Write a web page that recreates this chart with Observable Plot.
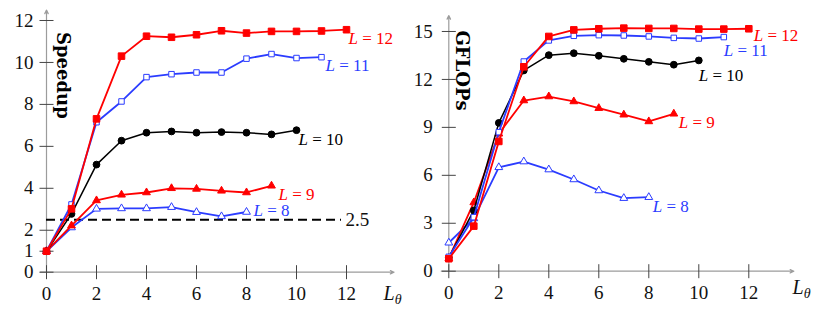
<!DOCTYPE html>
<html><head><meta charset="utf-8">
<script src="https://cdn.jsdelivr.net/npm/d3@7"></script>
<script src="https://cdn.jsdelivr.net/npm/@observablehq/plot@0.6"></script>
<style>
body{margin:0;background:#fff;}
#wrap{display:flex;width:823px;height:311px;overflow:hidden;}
#wrap svg{display:block;}
</style></head><body><div id="wrap"></div>
<script>
// ---- data ----
const lTheta = [0,1,2,3,4,5,6,7,8,9,10,11,12];
const seriesNames = ["L = 8","L = 9","L = 10","L = 11","L = 12"];

const speedupL8  = [1, 2.13, 3.02, 3.04, 3.04, 3.10, 2.86, 2.66, 2.87];
const speedupL9  = [1, 2.22, 3.42, 3.69, 3.80, 4.00, 3.97, 3.88, 3.80, 4.12];
const speedupL10 = [1, 2.78, 5.13, 6.27, 6.65, 6.71, 6.65, 6.68, 6.65, 6.57, 6.77];
const speedupL11 = [1, 3.23, 7.15, 8.14, 9.30, 9.44, 9.52, 9.52, 10.18, 10.40, 10.21, 10.25];
const speedupL12 = [1, 3.02, 7.31, 10.30, 11.25, 11.20, 11.32, 11.51, 11.40, 11.48, 11.48, 11.50, 11.56];

const gflopsL8  = [1.78, 3.30, 6.50, 6.86, 6.36, 5.74, 5.05, 4.57, 4.63];
const gflopsL9  = [0.80, 4.30, 8.60, 10.68, 10.93, 10.62, 10.20, 9.79, 9.37, 9.85];
const gflopsL10 = [0.85, 3.80, 9.28, 12.56, 13.52, 13.64, 13.48, 13.29, 13.10, 12.92, 13.19];
const gflopsL11 = [0.90, 3.38, 8.70, 13.12, 14.44, 14.73, 14.77, 14.75, 14.69, 14.60, 14.56, 14.65];
const gflopsL12 = [0.78, 2.82, 8.12, 12.79, 14.69, 15.10, 15.17, 15.21, 15.19, 15.19, 15.15, 15.15, 15.17];

const xTickValues = [0,2,4,6,8,10,12];
const speedupTickValues = [0,1,2,4,6,8,10,12];
const gflopsTickValues = [0,3,6,9,12,15];
const refLineValue = 2.5;
const refLineLabel = "2.5";
const xAxisLabel = "Lθ";
const leftTitle = "Speedup";
const rightTitle = "GFLOPs";

// ---- styles ----
const RED = "#ff0000", BLUE = "#2b3cff", BLACK = "#000000";
const FONT = "Liberation Serif";
const seriesStyles = [
  {color: BLUE,  symbol: "triangle", fill: "white", r: 2.9, sw: 1.8},
  {color: RED,   symbol: "triangle", fill: RED,     r: 2.9, sw: 1.8},
  {color: BLACK, symbol: "circle",   fill: BLACK,   r: 3.4, sw: 1.5},
  {color: BLUE,  symbol: "square",   fill: "white", r: 3.1, sw: 1.8},
  {color: RED,   symbol: "square",   fill: RED,     r: 3.7, sw: 1.8}
];
const vTick = {draw(ctx){ ctx.moveTo(0,-7); ctx.lineTo(0,7); }};
const hTick = {draw(ctx){ ctx.moveTo(-7,0); ctx.lineTo(7,0); }};

function rows(values){ return values.map((v,i)=>({x: lTheta[i], y: v})); }

function makeChart(cfg){
  const marks = [];
  marks.push(Plot.arrow([cfg.xAxis], {x1:"x1", y1:"y1", x2:"x2", y2:"y2", stroke:"#9c9c9c", strokeWidth:1.2, headLength:5, headAngle:50}));
  marks.push(Plot.arrow([cfg.yAxis], {x1:"x1", y1:"y1", x2:"x2", y2:"y2", stroke:"#9c9c9c", strokeWidth:1.2, headLength:5, headAngle:50}));
  marks.push(Plot.dot(xTickValues, {x: d=>d, y: 0, symbol: vTick, stroke: "#444", strokeWidth: 1, fill: "none"}));
  marks.push(Plot.dot(cfg.yTicks, {x: 0, y: d=>d, symbol: hTick, stroke: "#444", strokeWidth: 1, fill: "none"}));
  marks.push(Plot.text(xTickValues, {x: d=>d, y: 0, text: d=>String(d), dy: 22, fontSize: 19, fontFamily: FONT, fill: "#111", lineAnchor: "middle"}));
  marks.push(Plot.text(cfg.yTicks, {x: 0, y: d=>d, text: d=>String(d), dx: cfg.yLabelDx, fontSize: 19, fontFamily: FONT, fill: "#111", textAnchor: "end", lineAnchor: "middle"}));
  if (cfg.extra) marks.push(...cfg.extra);
  cfg.series.forEach((vals, k) => {
    const st = seriesStyles[k];
    const data = rows(vals);
    marks.push(Plot.line(data, {x:"x", y:"y", stroke: st.color, strokeWidth: st.sw}));
    marks.push(Plot.dot(data, {x:"x", y:"y", symbol: st.symbol, r: st.r, fill: st.fill, stroke: st.color, strokeWidth: 1}));
  });
  cfg.series.forEach((vals, k) => {
    const st = seriesStyles[k];
    const last = rows(vals).slice(-1);
    marks.push(Plot.text(last, {x:"x", y:"y", text: () => seriesNames[k], dx: cfg.labelOffsets[k][0], dy: cfg.labelOffsets[k][1], textAnchor: "start", lineAnchor: "middle", fontSize: 17, fontFamily: FONT, fill: st.color}));
  });
  marks.push(Plot.text([cfg.title], {frameAnchor: "top-left", text: d=>d, dx: cfg.titleDx, dy: cfg.titleDy, rotate: 90, textAnchor: "start", lineAnchor: "middle", fontSize: 18, fontWeight: "bold", fontFamily: "DejaVu Serif", fill: "#000"}));
  marks.push(Plot.text([xAxisLabel], {x: cfg.xLabelAt, y: 0, text: d=>d, dy: cfg.xLabelDy, textAnchor: "start", lineAnchor: "middle", fontSize: 20, fontFamily: FONT, fill: "#111"}));

  const svg = Plot.plot({
    width: cfg.width, height: 311,
    marginLeft: cfg.ml, marginRight: cfg.mr, marginTop: cfg.mt, marginBottom: cfg.mb,
    x: {domain: [0, 14], axis: null},
    y: {domain: [0, cfg.yMax], axis: null},
    style: {"font-family": FONT, background: "white", overflow: "visible"},
    marks
  });
  svg.querySelectorAll("text").forEach(t => {
    if (t.querySelector("tspan")) return;
    const s = t.textContent;
    if (s.startsWith("L = ")) {
      t.textContent = "";
      const a = document.createElementNS("http://www.w3.org/2000/svg","tspan");
      a.setAttribute("font-style","italic"); a.textContent = "L";
      const b = document.createElementNS("http://www.w3.org/2000/svg","tspan");
      b.textContent = " = " + s.slice(4);
      t.append(a, b);
    } else if (s === xAxisLabel) {
      t.textContent = "";
      const a = document.createElementNS("http://www.w3.org/2000/svg","tspan");
      a.setAttribute("font-style","italic"); a.textContent = "L";
      const b = document.createElementNS("http://www.w3.org/2000/svg","tspan");
      b.setAttribute("font-style","italic"); b.setAttribute("font-size","14"); b.setAttribute("dy","4");
      b.textContent = "θ";
      t.append(a, b);
    }
  });
  return svg;
}

const left = makeChart({
  width: 405, ml: 46, mr: 9, mt: 9.5, mb: 39.3, yMax: 12.5,
  xAxis: {x1: -0.25, y1: 0, x2: 13.9, y2: 0},
  yAxis: {x1: 0, y1: 0, x2: 0, y2: 12.5},
  yTicks: speedupTickValues, yLabelDx: -13,
  series: [speedupL8, speedupL9, speedupL10, speedupL11, speedupL12],
  labelOffsets: [[7,-1],[7,9],[2,9],[4,8],[2,9]],
  title: leftTitle, titleDx: 16, titleDy: 22,
  xLabelAt: 13.48, xLabelDy: 21,
  extra: [
    Plot.ruleY([refLineValue], {x1: 0, x2: 11.8, y: d=>d, stroke: "#000", strokeWidth: 1.8, strokeDasharray: "9,5"}),
    Plot.text([refLineValue], {x: 11.8, y: d=>d, text: () => refLineLabel, dx: 4, textAnchor: "start", lineAnchor: "middle", fontSize: 19, fontFamily: FONT, fill: "#111"})
  ]
});
const right = makeChart({
  width: 418, ml: 43.3, mr: 24.7, mt: 15, mb: 40.3, yMax: 16,
  xAxis: {x1: -0.3, y1: 0, x2: 13.8, y2: 0},
  yAxis: {x1: 0, y1: 0, x2: 0, y2: 16},
  yTicks: gflopsTickValues, yLabelDx: -16,
  series: [gflopsL8, gflopsL9, gflopsL10, gflopsL11, gflopsL12],
  labelOffsets: [[4,9],[5,9],[0,15],[0,13],[5,7]],
  title: rightTitle, titleDx: 12.7, titleDy: 15,
  xLabelAt: 13.75, xLabelDy: 16
});
document.getElementById("wrap").append(left, right);
</script></body></html>
